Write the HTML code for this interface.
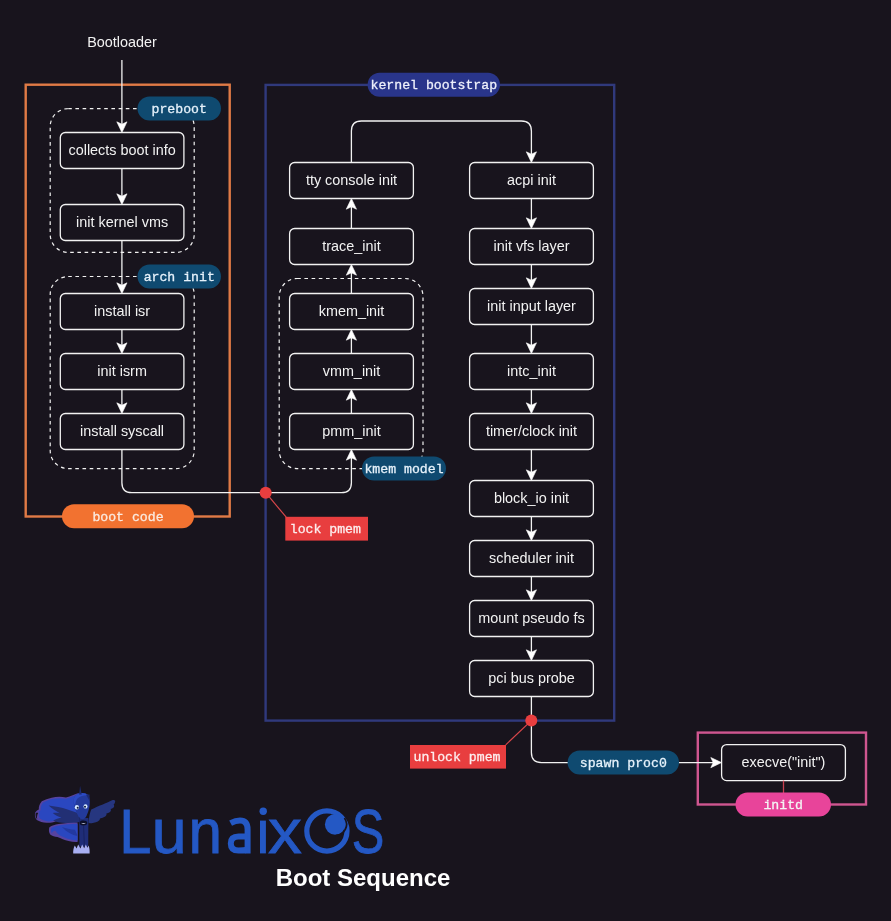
<!DOCTYPE html>
<html><head><meta charset="utf-8"><style>
html,body{margin:0;padding:0;background:#18141D;}
body{width:891px;height:921px;overflow:hidden;}
svg{display:block;will-change:transform;}
.t{font-family:"Liberation Sans",sans-serif;font-size:14.4px;fill:#f2f2f2;text-anchor:middle;}
.m{font-family:"Liberation Mono",monospace;font-size:13.2px;font-weight:normal;stroke-width:0.3px;text-anchor:middle;}
.mr{font-family:"Liberation Mono",monospace;font-size:13.2px;font-weight:normal;text-anchor:middle;}
.bs{font-family:"Liberation Sans",sans-serif;font-size:24px;font-weight:bold;fill:#ffffff;text-anchor:middle;}
.lg{font-family:"Liberation Sans",sans-serif;}
</style></head><body>
<svg width="891" height="921" viewBox="0 0 891 921">
<rect width="891" height="921" fill="#18141D"/>
<rect x="25.7" y="84.7" width="204.0" height="431.8" fill="none" stroke="#e07a46" stroke-width="2.4"/>
<rect x="265.6" y="84.9" width="348.6" height="635.7" fill="none" stroke="#30397c" stroke-width="2.4"/>
<rect x="697.8" y="732.6" width="168.20000000000005" height="71.89999999999998" fill="none" stroke="#cf5690" stroke-width="2.4"/>
<rect x="50.2" y="108.6" width="144.0" height="143.8" rx="18" ry="18" fill="none" stroke="#f2f2f2" stroke-width="1.2" stroke-dasharray="3.6 3.6"/>
<rect x="50.2" y="276.5" width="144.0" height="192.10000000000002" rx="18" ry="18" fill="none" stroke="#f2f2f2" stroke-width="1.2" stroke-dasharray="3.6 3.6"/>
<rect x="279.2" y="278.5" width="143.8" height="190.10000000000002" rx="18" ry="18" fill="none" stroke="#f2f2f2" stroke-width="1.2" stroke-dasharray="3.6 3.6"/>
<text x="122" y="47" class="t">Bootloader</text>
<line x1="121.9" y1="60" x2="121.9" y2="124.5" stroke="#f2f2f2" stroke-width="1.3"/>
<polygon points="121.90,132.50 116.80,121.80 121.90,124.20 127.00,121.80" fill="#ffffff" stroke="#ffffff" stroke-width="0.6" stroke-linejoin="miter"/>
<line x1="121.9" y1="168.5" x2="121.9" y2="196.5" stroke="#f2f2f2" stroke-width="1.3"/>
<polygon points="121.90,204.50 116.80,193.80 121.90,196.20 127.00,193.80" fill="#ffffff" stroke="#ffffff" stroke-width="0.6" stroke-linejoin="miter"/>
<line x1="121.9" y1="240.5" x2="121.9" y2="285.5" stroke="#f2f2f2" stroke-width="1.3"/>
<polygon points="121.90,293.50 116.80,282.80 121.90,285.20 127.00,282.80" fill="#ffffff" stroke="#ffffff" stroke-width="0.6" stroke-linejoin="miter"/>
<line x1="121.9" y1="329.5" x2="121.9" y2="345.5" stroke="#f2f2f2" stroke-width="1.3"/>
<polygon points="121.90,353.50 116.80,342.80 121.90,345.20 127.00,342.80" fill="#ffffff" stroke="#ffffff" stroke-width="0.6" stroke-linejoin="miter"/>
<line x1="121.9" y1="389.5" x2="121.9" y2="405.5" stroke="#f2f2f2" stroke-width="1.3"/>
<polygon points="121.90,413.50 116.80,402.80 121.90,405.20 127.00,402.80" fill="#ffffff" stroke="#ffffff" stroke-width="0.6" stroke-linejoin="miter"/>
<path d="M121.9 449.5 L121.9 482.7 Q121.9 492.7 131.9 492.7 L341.4 492.7 Q351.4 492.7 351.4 482.7 L351.4 457.5" fill="none" stroke="#f2f2f2" stroke-width="1.3"/>
<polygon points="351.40,449.50 346.30,460.20 351.40,457.80 356.50,460.20" fill="#ffffff" stroke="#ffffff" stroke-width="0.6" stroke-linejoin="miter"/>
<line x1="351.4" y1="413.5" x2="351.4" y2="397.5" stroke="#f2f2f2" stroke-width="1.3"/>
<polygon points="351.40,389.50 346.30,400.20 351.40,397.80 356.50,400.20" fill="#ffffff" stroke="#ffffff" stroke-width="0.6" stroke-linejoin="miter"/>
<line x1="351.4" y1="353.5" x2="351.4" y2="337.5" stroke="#f2f2f2" stroke-width="1.3"/>
<polygon points="351.40,329.50 346.30,340.20 351.40,337.80 356.50,340.20" fill="#ffffff" stroke="#ffffff" stroke-width="0.6" stroke-linejoin="miter"/>
<line x1="351.4" y1="293.5" x2="351.4" y2="272.5" stroke="#f2f2f2" stroke-width="1.3"/>
<polygon points="351.40,264.50 346.30,275.20 351.40,272.80 356.50,275.20" fill="#ffffff" stroke="#ffffff" stroke-width="0.6" stroke-linejoin="miter"/>
<line x1="351.4" y1="228.5" x2="351.4" y2="206.5" stroke="#f2f2f2" stroke-width="1.3"/>
<polygon points="351.40,198.50 346.30,209.20 351.40,206.80 356.50,209.20" fill="#ffffff" stroke="#ffffff" stroke-width="0.6" stroke-linejoin="miter"/>
<path d="M351.4 162.5 L351.4 131 Q351.4 121 361.4 121 L521.4 121 Q531.4 121 531.4 131 L531.4 154.5" fill="none" stroke="#f2f2f2" stroke-width="1.3"/>
<polygon points="531.40,162.50 526.30,151.80 531.40,154.20 536.50,151.80" fill="#ffffff" stroke="#ffffff" stroke-width="0.6" stroke-linejoin="miter"/>
<line x1="531.4" y1="198.5" x2="531.4" y2="220.5" stroke="#f2f2f2" stroke-width="1.3"/>
<polygon points="531.40,228.50 526.30,217.80 531.40,220.20 536.50,217.80" fill="#ffffff" stroke="#ffffff" stroke-width="0.6" stroke-linejoin="miter"/>
<line x1="531.4" y1="264.5" x2="531.4" y2="280.5" stroke="#f2f2f2" stroke-width="1.3"/>
<polygon points="531.40,288.50 526.30,277.80 531.40,280.20 536.50,277.80" fill="#ffffff" stroke="#ffffff" stroke-width="0.6" stroke-linejoin="miter"/>
<line x1="531.4" y1="324.5" x2="531.4" y2="345.5" stroke="#f2f2f2" stroke-width="1.3"/>
<polygon points="531.40,353.50 526.30,342.80 531.40,345.20 536.50,342.80" fill="#ffffff" stroke="#ffffff" stroke-width="0.6" stroke-linejoin="miter"/>
<line x1="531.4" y1="389.5" x2="531.4" y2="405.5" stroke="#f2f2f2" stroke-width="1.3"/>
<polygon points="531.40,413.50 526.30,402.80 531.40,405.20 536.50,402.80" fill="#ffffff" stroke="#ffffff" stroke-width="0.6" stroke-linejoin="miter"/>
<line x1="531.4" y1="449.5" x2="531.4" y2="472.5" stroke="#f2f2f2" stroke-width="1.3"/>
<polygon points="531.40,480.50 526.30,469.80 531.40,472.20 536.50,469.80" fill="#ffffff" stroke="#ffffff" stroke-width="0.6" stroke-linejoin="miter"/>
<line x1="531.4" y1="516.5" x2="531.4" y2="532.5" stroke="#f2f2f2" stroke-width="1.3"/>
<polygon points="531.40,540.50 526.30,529.80 531.40,532.20 536.50,529.80" fill="#ffffff" stroke="#ffffff" stroke-width="0.6" stroke-linejoin="miter"/>
<line x1="531.4" y1="576.5" x2="531.4" y2="592.5" stroke="#f2f2f2" stroke-width="1.3"/>
<polygon points="531.40,600.50 526.30,589.80 531.40,592.20 536.50,589.80" fill="#ffffff" stroke="#ffffff" stroke-width="0.6" stroke-linejoin="miter"/>
<line x1="531.4" y1="636.5" x2="531.4" y2="652.5" stroke="#f2f2f2" stroke-width="1.3"/>
<polygon points="531.40,660.50 526.30,649.80 531.40,652.20 536.50,649.80" fill="#ffffff" stroke="#ffffff" stroke-width="0.6" stroke-linejoin="miter"/>
<path d="M531.4 696.5 L531.4 752.6 Q531.4 762.6 541.4 762.6 L713.5 762.6" fill="none" stroke="#f2f2f2" stroke-width="1.3"/>
<polygon points="721.50,762.60 710.80,757.50 713.20,762.60 710.80,767.70" fill="#ffffff" stroke="#ffffff" stroke-width="0.6" stroke-linejoin="miter"/>
<rect x="60.3" y="132.5" width="123.60000000000001" height="36.0" rx="5" ry="5" fill="#18141D" stroke="#f2f2f2" stroke-width="1.3"/>
<text x="122.1" y="155.0" class="t">collects boot info</text>
<rect x="60.3" y="204.5" width="123.60000000000001" height="36.0" rx="5" ry="5" fill="#18141D" stroke="#f2f2f2" stroke-width="1.3"/>
<text x="122.1" y="227.0" class="t">init kernel vms</text>
<rect x="60.3" y="293.5" width="123.60000000000001" height="36.0" rx="5" ry="5" fill="#18141D" stroke="#f2f2f2" stroke-width="1.3"/>
<text x="122.1" y="316.0" class="t">install isr</text>
<rect x="60.3" y="353.5" width="123.60000000000001" height="36.0" rx="5" ry="5" fill="#18141D" stroke="#f2f2f2" stroke-width="1.3"/>
<text x="122.1" y="376.0" class="t">init isrm</text>
<rect x="60.3" y="413.5" width="123.60000000000001" height="36.0" rx="5" ry="5" fill="#18141D" stroke="#f2f2f2" stroke-width="1.3"/>
<text x="122.1" y="436.0" class="t">install syscall</text>
<rect x="289.6" y="162.5" width="123.79999999999995" height="36.0" rx="5" ry="5" fill="#18141D" stroke="#f2f2f2" stroke-width="1.3"/>
<text x="351.5" y="185.0" class="t">tty console init</text>
<rect x="289.6" y="228.5" width="123.79999999999995" height="36.0" rx="5" ry="5" fill="#18141D" stroke="#f2f2f2" stroke-width="1.3"/>
<text x="351.5" y="251.0" class="t">trace_init</text>
<rect x="289.6" y="293.5" width="123.79999999999995" height="36.0" rx="5" ry="5" fill="#18141D" stroke="#f2f2f2" stroke-width="1.3"/>
<text x="351.5" y="316.0" class="t">kmem_init</text>
<rect x="289.6" y="353.5" width="123.79999999999995" height="36.0" rx="5" ry="5" fill="#18141D" stroke="#f2f2f2" stroke-width="1.3"/>
<text x="351.5" y="376.0" class="t">vmm_init</text>
<rect x="289.6" y="413.5" width="123.79999999999995" height="36.0" rx="5" ry="5" fill="#18141D" stroke="#f2f2f2" stroke-width="1.3"/>
<text x="351.5" y="436.0" class="t">pmm_init</text>
<rect x="469.6" y="162.5" width="123.79999999999995" height="36.0" rx="5" ry="5" fill="#18141D" stroke="#f2f2f2" stroke-width="1.3"/>
<text x="531.5" y="185.0" class="t">acpi init</text>
<rect x="469.6" y="228.5" width="123.79999999999995" height="36.0" rx="5" ry="5" fill="#18141D" stroke="#f2f2f2" stroke-width="1.3"/>
<text x="531.5" y="251.0" class="t">init vfs layer</text>
<rect x="469.6" y="288.5" width="123.79999999999995" height="36.0" rx="5" ry="5" fill="#18141D" stroke="#f2f2f2" stroke-width="1.3"/>
<text x="531.5" y="311.0" class="t">init input layer</text>
<rect x="469.6" y="353.5" width="123.79999999999995" height="36.0" rx="5" ry="5" fill="#18141D" stroke="#f2f2f2" stroke-width="1.3"/>
<text x="531.5" y="376.0" class="t">intc_init</text>
<rect x="469.6" y="413.5" width="123.79999999999995" height="36.0" rx="5" ry="5" fill="#18141D" stroke="#f2f2f2" stroke-width="1.3"/>
<text x="531.5" y="436.0" class="t">timer/clock init</text>
<rect x="469.6" y="480.5" width="123.79999999999995" height="36.0" rx="5" ry="5" fill="#18141D" stroke="#f2f2f2" stroke-width="1.3"/>
<text x="531.5" y="503.0" class="t">block_io init</text>
<rect x="469.6" y="540.5" width="123.79999999999995" height="36.0" rx="5" ry="5" fill="#18141D" stroke="#f2f2f2" stroke-width="1.3"/>
<text x="531.5" y="563.0" class="t">scheduler init</text>
<rect x="469.6" y="600.5" width="123.79999999999995" height="36.0" rx="5" ry="5" fill="#18141D" stroke="#f2f2f2" stroke-width="1.3"/>
<text x="531.5" y="623.0" class="t">mount pseudo fs</text>
<rect x="469.6" y="660.5" width="123.79999999999995" height="36.0" rx="5" ry="5" fill="#18141D" stroke="#f2f2f2" stroke-width="1.3"/>
<text x="531.5" y="683.0" class="t">pci bus probe</text>
<rect x="721.6" y="744.6" width="123.79999999999995" height="36.0" rx="5" ry="5" fill="#18141D" stroke="#f2f2f2" stroke-width="1.3"/>
<text x="783.5" y="767.1" class="t">execve(&quot;init&quot;)</text>
<line x1="265.7" y1="492.7" x2="286.2" y2="517.2" stroke="#d9474b" stroke-width="1.15"/>
<line x1="531.3" y1="720.6" x2="505.7" y2="744.8" stroke="#d9474b" stroke-width="1.15"/>
<line x1="783.5" y1="780.6" x2="783.5" y2="793" stroke="#c8404f" stroke-width="1.3"/>
<circle cx="265.7" cy="492.7" r="6" fill="#e83e3f"/>
<circle cx="531.3" cy="720.6" r="6" fill="#e83e3f"/>
<rect x="137.5" y="96.6" width="83.5" height="24.0" rx="12.0" ry="12.0" fill="#0f4a70"/>
<text x="179.25" y="112.89999999999999" class="m" fill="#e6f2fb" stroke="#e6f2fb">preboot</text>
<rect x="137.5" y="264.5" width="83.5" height="24.0" rx="12.0" ry="12.0" fill="#0f4a70"/>
<text x="179.25" y="280.8" class="m" fill="#e6f2fb" stroke="#e6f2fb">arch init</text>
<rect x="362" y="456.6" width="84" height="24.0" rx="12.0" ry="12.0" fill="#0f4a70"/>
<text x="404.0" y="472.90000000000003" class="m" fill="#e6f2fb" stroke="#e6f2fb">kmem model</text>
<rect x="567.6" y="750.6" width="111.39999999999998" height="24.0" rx="12.0" ry="12.0" fill="#0f4a70"/>
<text x="623.3" y="766.9" class="m" fill="#e6f2fb" stroke="#e6f2fb">spawn proc0</text>
<rect x="367.6" y="72.7" width="132.39999999999998" height="24.0" rx="12.0" ry="12.0" fill="#29358a"/>
<text x="433.8" y="89.0" class="m" fill="#eef0fb" stroke="#eef0fb">kernel bootstrap</text>
<rect x="62" y="504.2" width="132" height="24.000000000000057" rx="12.000000000000028" ry="12.000000000000028" fill="#f27230"/>
<text x="128.0" y="520.5" class="m" fill="#fbeadf" stroke="#fbeadf">boot code</text>
<rect x="735.5" y="792.6" width="95.5" height="24.0" rx="12.0" ry="12.0" fill="#e8449a"/>
<text x="783.25" y="808.9" class="m" fill="#f4f4f4" stroke="#f4f4f4">initd</text>
<rect x="285.3" y="516.8" width="82.69999999999999" height="23.800000000000068" rx="0" ry="0" fill="#e83e3f"/>
<text x="325.34999999999997" y="533.0" class="m" fill="#fdeeee" stroke="#fdeeee">lock pmem</text>
<rect x="410" y="745" width="96" height="23.600000000000023" rx="0" ry="0" fill="#e83e3f"/>
<text x="457.0" y="761.0999999999999" class="m" fill="#fdeeee" stroke="#fdeeee">unlock pmem</text>
<text transform="translate(119.26,853.4) scale(0.912,1)" x="0" y="0" font-family="Liberation Sans, sans-serif" font-size="63.4" fill="#2458c4" stroke="#2458c4" stroke-width="0.8">L</text>
<text transform="translate(151.83,853.4) scale(0.988,1)" x="0" y="0" font-family="Liberation Sans, sans-serif" font-size="63.4" fill="#2458c4" stroke="#2458c4" stroke-width="0.8">u</text>
<text transform="translate(188.40,853.4) scale(0.951,1)" x="0" y="0" font-family="Liberation Sans, sans-serif" font-size="63.4" fill="#2458c4" stroke="#2458c4" stroke-width="0.8">n</text>
<text transform="translate(267.94,853.4) scale(1.069,1)" x="0" y="0" font-family="Liberation Sans, sans-serif" font-size="63.4" fill="#2458c4" stroke="#2458c4" stroke-width="0.8">x</text>
<text transform="translate(351.78,853.4) scale(0.770,1)" x="0" y="0" font-family="Liberation Sans, sans-serif" font-size="63.4" fill="#2458c4" stroke="#2458c4" stroke-width="0.8">S</text>
<path d="M230.6 823.2 Q235.5 820.6 240 820.6 Q247.6 820.6 247.6 829.5 V853.5" fill="none" stroke="#2458c4" stroke-width="6"/>
<path d="M247.6 836.6 H238.5 Q230.8 836.6 230.8 843.6 Q230.8 850.6 238.5 850.6 Q243.5 850.6 247.6 849.8" fill="none" stroke="#2458c4" stroke-width="6"/>
<rect x="260" y="820.6" width="5.9" height="32.799999999999955" fill="#2458c4"/>
<circle cx="263.2" cy="811.3" r="3.7" fill="#2458c4"/>
<circle cx="326.9" cy="831" r="20.1" fill="none" stroke="#2458c4" stroke-width="5.2"/>
<circle cx="335.2" cy="824.4" r="10.3" fill="#2458c4"/>
<path d="M344.46 817.92 A11.3 11.3 0 0 1 335.59 835.69" fill="none" stroke="#18141D" stroke-width="1.7"/>
<g>
<path d="M78.6 793 C75 794.3 70.5 796.2 66 797.4 C61.5 796.6 56.5 796.4 51.6 797.8 C48 798.8 44.8 799.8 41.8 801.2 C39.6 803.8 38.6 806.8 38.8 809.6 C37.4 810.2 36 811.4 35 813 C34.6 815.5 35.2 818.2 36.8 820 C39.5 821.6 43 822.6 46.5 822.8 C50 823 53 822.4 56 821.2 L77 819 Z" fill="#5743a0"/>
<path d="M78 794.4 C74.6 795.6 70.4 797.4 66 798.7 C61.5 798 56.8 797.8 52.2 799.1 C48.8 800.1 45.8 801.1 43 802.5 C41.2 804.8 40.4 807.4 40.6 810.2 C39.4 811 38.2 812 37.4 813.2 C37.4 812.5 38.6 812 39.4 812.4 C38.6 814.6 38.8 817 40.2 818.8 C42.6 820.4 45.6 821.2 48.6 821.4 C51.4 821.4 53.8 820.8 56.2 819.8 L77 817.6 Z" fill="#2a47c0"/>
<path d="M35.6 813.2 C35.3 815.4 35.8 817.6 37.2 819.2 C36.8 817 37 815 38.2 813 C37.4 812.8 36.4 812.8 35.6 813.2 Z" fill="#18141D"/>
<path d="M48.6 805.6 C55 806.4 61.5 807.6 67.5 809.4 C71.5 810.6 75.5 812 79 813.6 L79.2 822 C74 823.4 68 823.6 62 822.8 C58.5 822.4 55.5 821.6 53 820.4 C55.6 819.2 58.5 818.2 61.5 817.4 C58 816.6 55 815 52.8 813 C55 812.8 57.5 812.8 59.8 813.2 C56 811.2 52 808.8 48.6 805.6 Z" fill="#222f74"/>
<path d="M77.5 822.4 C71 822.6 64.5 823 58.5 824 C55 824.6 52 825.6 49.4 827.2 C48.6 829.6 48.8 832.2 50.2 834.4 C52.2 836 54.8 836.8 57.4 837 C60.8 838.4 64.6 840 68.6 841 C71.6 841.8 74.6 842.2 77.6 842 Z" fill="#5743a0"/>
<path d="M77.5 823.8 C71 824 64.5 824.4 59 825.4 C56 826 53.4 826.8 51.2 828.2 C50.8 830 51 831.8 52 833.2 C52.4 831.2 54 830.2 55.6 830.8 C57 833.6 59.2 835.4 62 836.4 C65 837.8 68.4 839 71.6 839.8 C73.8 840.3 75.8 840.5 77.6 840.4 Z" fill="#2a47c0"/>
<path d="M62 827 C66 828.5 70.5 829.5 75 829.8 L77.6 836 C72 835 66.5 832 62 827 Z" fill="#2339a0"/>
<path d="M88.4 822.4 C89 817.4 89.8 813 91.2 809.6 C95 807.4 99 805.8 102.8 804.4 C106.4 803 109.8 801.4 112.6 800 C113.8 799.8 114.8 800.2 115.2 801 C115.2 802.6 114.6 803.8 113.6 804.6 C114.4 805.4 114.4 806.6 113.6 807.6 C112.6 808.4 111.6 808.8 110.6 809 C111.2 810 111 811.2 110 812 C108.8 812.8 107.6 813.2 106.4 813.4 C106.8 814.4 106.4 815.6 105.2 816.4 C103.6 817.4 101.8 818 100 818.4 C100 819.6 99.2 820.6 97.8 821.4 C95.4 822.6 92.4 823.2 89.6 823.2 Z" fill="#26367f"/>
<path d="M79.2 818 L88.4 818 L88.2 846.5 L79.4 846.5 Z" fill="#1f2d78"/>
<path d="M83.6 826 L84.4 846.5" stroke="#15205a" stroke-width="0.8"/>
<path d="M73.2 853.6 C73 850.8 73.6 848 74.8 845.6 L76.6 848.4 L78.2 844.6 L80.4 848.4 L82.2 844.4 L84.2 848.2 L85.8 844.4 L87.4 847.8 L88.6 845.4 C89.6 848 89.8 850.8 89.6 853.6 Z" fill="#a8aff2"/>
<path d="M73.6 800.8 C73.8 796.6 76.8 793.4 80.8 793 C84.6 792.6 87.6 793.8 89 796.4 C90 799.4 90 803.2 89.4 806.8 C88.8 810.2 87.6 813.4 86.6 815.8 C85.6 818.2 83.8 819.4 82 819.2 C80 818.9 78.6 817.2 77.6 814.8 C75.4 810.6 73.6 805.6 73.6 800.8 Z" fill="#233a9c"/>
<path d="M73.6 800.8 C73.8 796.6 76.8 793.4 80.8 793 C84 792.7 86.6 793.5 88.2 795.3 C84.5 795 80.5 796 77.5 798.6 C76 800.2 75.2 803 75.4 806 C74.2 804.4 73.6 802.6 73.6 800.8 Z" fill="#2c4bc4"/>
<path d="M79.1 794.6 L80.1 785.8 L81.7 794.6 Z" fill="#1c2a70"/>
<path d="M86 794.4 L89.6 794.6 L89.4 800.8 Z" fill="#1c2a70"/>
<path d="M79.6 822.9 C79.6 821 81.4 820.4 83.4 820.4 C85.4 820.4 87.2 821.1 87.2 822.9 C87.2 824.6 85.4 825.4 83.4 825.4 C81.4 825.4 79.6 824.6 79.6 822.9 Z" fill="#0c0e28"/>
<path d="M81 822.7 Q83.4 825.2 86 822.7 Q83.4 823.8 81 822.7 Z" fill="#e6ecff"/>
<ellipse cx="76.9" cy="807.3" rx="2.1" ry="2.2" fill="#d6eaff"/>
<ellipse cx="85.5" cy="806.4" rx="2" ry="2.2" fill="#d6eaff"/>
<circle cx="77.7" cy="807.7" r="1" fill="#101535"/>
<circle cx="85" cy="806.8" r="1" fill="#101535"/>
</g>
<text x="363" y="885.5" class="bs">Boot Sequence</text>
</svg>
</body></html>
